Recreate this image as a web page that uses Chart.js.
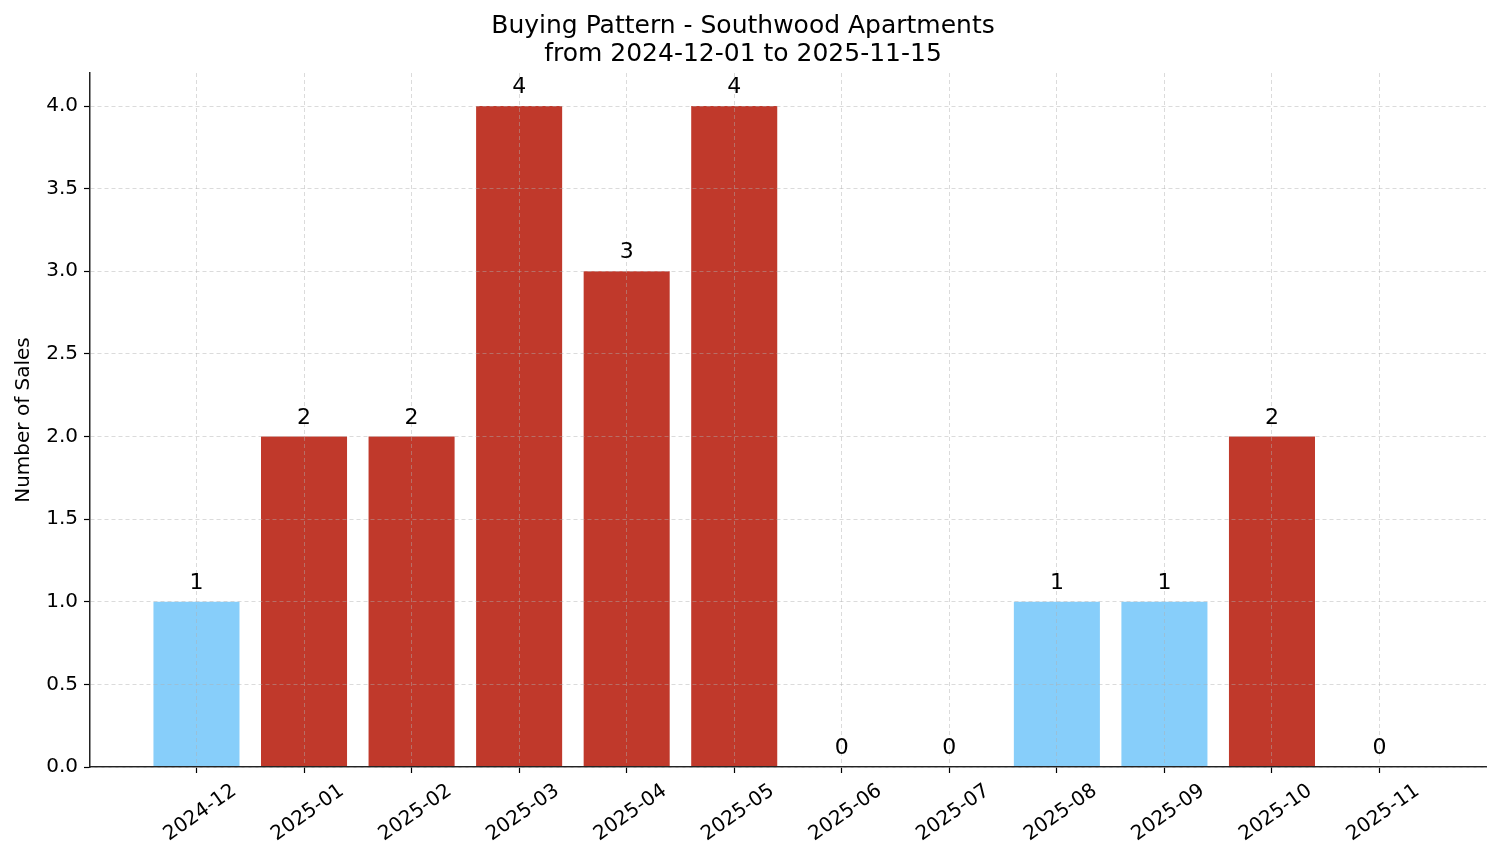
<!DOCTYPE html>
<html>
<head>
<meta charset="utf-8">
<script src="https://cdn.jsdelivr.net/npm/chart.js@4.4.1/dist/chart.umd.min.js"></script>
<style>
  html, body { margin: 0; padding: 0; background: #fff; }
  #wrap { width: 1501px; height: 863px; position: relative; }
</style>
</head>
<body>
<div id="wrap"><canvas id="grafik"></canvas></div>
<script>
const months = [
  "2024-12", "2025-01", "2025-02", "2025-03", "2025-04", "2025-05",
  "2025-06", "2025-07", "2025-08", "2025-09", "2025-10", "2025-11",
];
const sales = [1, 2, 2, 4, 3, 4, 0, 0, 1, 1, 2, 0];
const yTicks = [0, 0.5, 1, 1.5, 2, 2.5, 3, 3.5, 4];

const RED = "#c0392b";
const BLUE = "#87cefa";
const FONT = "'DejaVu Sans', sans-serif";
const GRID = "rgba(176,176,176,0.5)";

// value labels above each bar
const barLabels = {
  id: "barLabels",
  afterDraw(chart) {
    const ctx = chart.ctx;
    const meta = chart.getDatasetMeta(0);
    ctx.save();
    ctx.font = "22px " + FONT;
    ctx.fillStyle = "#000";
    ctx.textAlign = "center";
    ctx.textBaseline = "alphabetic";
    meta.data.forEach((bar, i) => {
      ctx.fillText(String(sales[i]), bar.x, bar.y - 13);
    });
    ctx.restore();
  },
};

(function () {
  const canvas = document.querySelector("#grafik");
  const data = sales.map((count, i) => ({ x: i, y: count }));
  const grid = {
    color: GRID,
    lineWidth: 0.9,
    z: 1,
    offset: false,
    tickColor: "#000",
    tickLength: 6,
    tickWidth: 1.2,
  };
  const border = { display: true, color: "#222", width: 1.5, dash: [4, 3], z: 1 };
  new Chart(canvas, {
    type: "bar",
    data: {
      datasets: [
        {
          label: "Number of Sales",
          data,
          backgroundColor: sales.map((v) => (v >= 2 ? RED : BLUE)),
          borderWidth: 0,
          categoryPercentage: 1,
          barPercentage: 0.8,
        },
      ],
    },
    options: {
      responsive: true,
      maintainAspectRatio: false,
      animation: false,
      layout: { padding: { left: 0, right: 15, top: 0, bottom: 0 } },
      plugins: {
        legend: { display: false },
        tooltip: { enabled: false },
        title: {
          display: true,
          text: ["Buying Pattern - Southwood Apartments", "from 2024-12-01 to 2025-11-15"],
          color: "#000",
          font: { family: FONT, size: 25, weight: "normal", lineHeight: 1.12 },
          padding: { top: 12, bottom: 5 },
        },
      },
      scales: {
        x: {
          type: "linear",
          offset: false,
          min: -0.99,
          max: 11.99,
          afterBuildTicks: (axis) => {
            axis.ticks = months.map((_, i) => ({ value: i }));
          },
          afterFit: (s) => { s.height = 96; },
          ticks: {
            autoSkip: false,
            minRotation: 35,
            maxRotation: 35,
            padding: 6,
            labelOffset: 38,
            color: "#000",
            font: { family: FONT, size: 20 },
            callback: (v) => months[v],
          },
          grid,
          border,
        },
        y: {
          min: 0,
          max: 4.2,
          afterBuildTicks: (axis) => {
            axis.ticks = yTicks.map((v) => ({ value: v }));
          },
          afterFit: (s) => { s.width = 90; },
          ticks: {
            padding: 6,
            color: "#000",
            font: { family: FONT, size: 20 },
            callback: (v) => Number(v).toFixed(1),
          },
          title: {
            display: true,
            text: "Number of Sales",
            color: "#000",
            font: { family: FONT, size: 20 },
            padding: { top: 12, bottom: 0 },
          },
          grid,
          border,
        },
      },
    },
    plugins: [barLabels],
  });
})();
</script>
</body>
</html>
